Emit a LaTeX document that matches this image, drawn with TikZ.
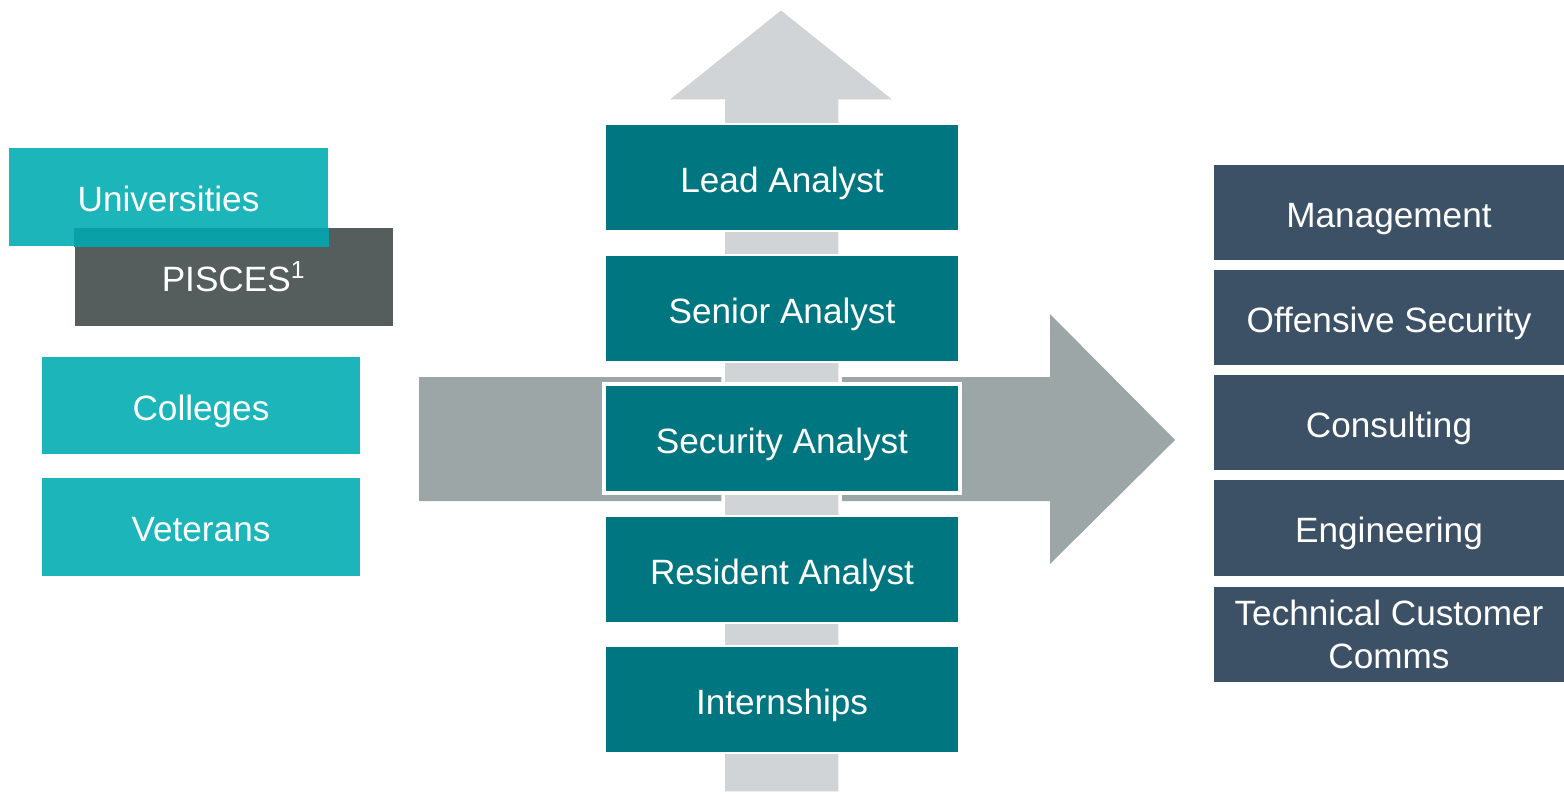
\documentclass[tikz,border=0pt]{standalone}
\usepackage{fontspec}
\setmainfont{Liberation Sans}
\usepackage{xcolor}
\definecolor{cpteal}{RGB}{28,181,186}
\definecolor{cptealdk}{RGB}{10,160,168}
\definecolor{cpslate}{RGB}{86,94,93}
\definecolor{cpladder}{RGB}{0,118,128}
\definecolor{cpnavy}{RGB}{61,81,102}
\definecolor{cpgray}{RGB}{156,166,167}
\definecolor{cplight}{RGB}{209,212,215}
\usetikzlibrary{positioning}
\tikzset{
  box text/.style={text=white, font=\fontsize{10}{12}\selectfont},
  label text/.style={box text, text height=0.29cm, text depth=0pt},
  src/.style={fill=#1, draw=white, line width=0.5pt, inner sep=0pt, label text,
              minimum width=3.2cm, minimum height=0.99cm},
  rung/.style={fill=cpladder, draw=white, line width=0.5pt, inner sep=0pt, label text,
               minimum width=3.54cm, minimum height=1.07cm},
  career/.style={fill=cpnavy, inner sep=0pt, align=center,
                 minimum width=3.5cm, minimum height=0.95cm},
}

\begin{document}
\begin{tikzpicture}[x=0.01cm, y=-0.01cm]
  \useasboundingbox (0,0) rectangle (1564,793);

  % Sideways arrow behind the ladder
  \fill[cpgray] (419,377) -- (1050,377) -- (1050,314) -- (1175,440)
    -- (1050,564) -- (1050,501) -- (419,501) -- cycle;

  % Upward arrow
  \filldraw[fill=cplight, draw=white, line width=1pt] (781,8) -- (897,101) -- (840,101)
    -- (840,793) -- (723,793) -- (723,101) -- (665,101) -- cycle;

  % Sources
  \node[src=cpslate] (pisces) at (234,277) {PISCES\textsuperscript{1}};
  \node[src=cpteal] (univ) at (168.5,197) {};
  \fill[cptealdk] (74,228) rectangle (329,247);
  \node[label text] at (univ) {Universities};
  \node[src=cpteal] (colleges) at (201,405.5) {Colleges};
  \node[src=cpteal] (veterans) at (201,527) {Veterans};

  % Ladder
  \node[rung] (lead) at (782,177.5) {Lead Analyst};
  \node[rung] (senior) at (782,308.5) {Senior Analyst};
  \node[rung, line width=1.2pt, minimum width=3.56cm, minimum height=1.09cm] (security) at (782,438.5) {Security Analyst};
  \node[rung] (resident) at (782,569.5) {Resident Analyst};
  \node[rung] (intern) at (782,699.5) {Internships};

  % Career paths
  \node[career, label text] (mgmt) at (1389,212.5) {Management};
  \node[career, label text] (offsec) at (1389,317.5) {Offensive Security};
  \node[career, label text] (consult) at (1389,422.5) {Consulting};
  \node[career, label text] (eng) at (1389,528) {Engineering};
  \node[career, box text] (comms) at (1389,634.5) {Technical Customer\\Comms};

\end{tikzpicture}
\end{document}
